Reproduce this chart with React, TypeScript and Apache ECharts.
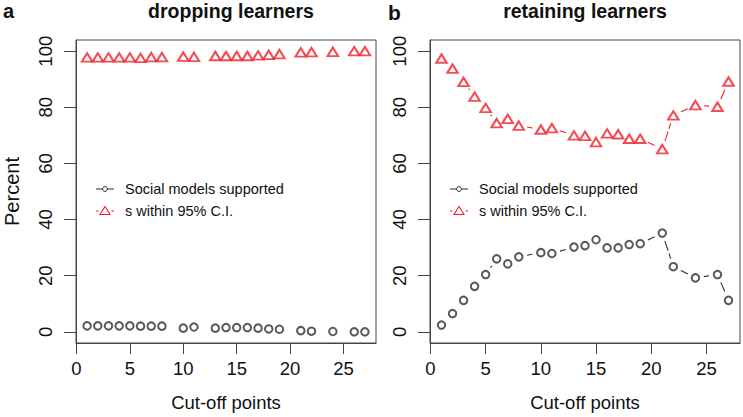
import React, { useEffect, useRef } from "react";
import * as echarts from "echarts";

const cutoffs = [1, 2, 3, 4, 5, 6, 7, 8, 10, 11, 13, 14, 15, 16, 17, 18, 19, 21, 22, 24, 26, 27];
const droppingSupported = [2.1, 2.1, 2.1, 2.1, 2.1, 2.0, 2.0, 2.0, 1.3, 1.7, 1.3, 1.5, 1.5, 1.5, 1.3, 1.0, 0.9, 0.4, 0.2, 0.1, 0, 0];
const droppingWithinCI = [97.8, 97.8, 97.8, 97.8, 97.8, 97.6, 97.9, 97.9, 98.1, 98.0, 98.3, 98.3, 98.3, 98.3, 98.5, 98.7, 99.0, 99.6, 99.7, 99.8, 100, 100];
const retainingSupported = [2.4, 6.5, 11.2, 16.2, 20.4, 26.0, 24.2, 26.7, 28.2, 27.9, 30.2, 30.7, 32.8, 29.9, 29.9, 31.1, 31.4, 35.2, 23.2, 19.2, 20.4, 11.2];
const retainingWithinCI = [97.4, 93.8, 89.1, 83.8, 79.8, 74.4, 75.9, 73.5, 72.1, 72.6, 70.0, 69.8, 67.6, 70.7, 70.4, 68.8, 68.8, 65.1, 77.1, 80.8, 80.2, 89.2];
const xTicks = [0, 5, 10, 15, 20, 25];
const yTicks = [0, 20, 40, 60, 80, 100];
const legendLabels = ["Social models supported", "s within 95% C.I."];
const panelTitles = ["dropping learners", "retaining learners"];
const panelLetters = ["a", "b"];

const FONT = "'Liberation Sans', Arial, Helvetica, sans-serif";
const BLACK = "#2e2e2e";
const RED = "#ee2128";
const GAP = 8.5;

function pts(ys: number[]) {
  return cutoffs.map((x, i) => [x, ys[i]]);
}
function segs(ys: number[]) {
  return cutoffs.slice(1).map((x, i) => [cutoffs[i], ys[i], x, ys[i + 1]]);
}

function segSeries(ys: number[], color: string, idx: number) {
  return {
    type: "custom",
    xAxisIndex: idx,
    yAxisIndex: idx,
    silent: true,
    encode: { x: [0, 2], y: [1, 3] },
    data: segs(ys),
    renderItem: (params: any, api: any) => {
      const p1 = api.coord([api.value(0), api.value(1)]);
      const p2 = api.coord([api.value(2), api.value(3)]);
      const dx = p2[0] - p1[0];
      const dy = p2[1] - p1[1];
      const len = Math.sqrt(dx * dx + dy * dy);
      if (len <= 2 * GAP + 1) return { type: "group", children: [] };
      const ux = dx / len;
      const uy = dy / len;
      return {
        type: "line",
        shape: {
          x1: p1[0] + ux * GAP,
          y1: p1[1] + uy * GAP,
          x2: p2[0] - ux * GAP,
          y2: p2[1] - uy * GAP,
        },
        style: { stroke: color, lineWidth: 1.1, lineDash: [10, 3], fill: null },
      };
    },
  };
}

function circleSeries(ys: number[], idx: number) {
  return {
    type: "scatter",
    xAxisIndex: idx,
    yAxisIndex: idx,
    symbol: "emptyCircle",
    symbolSize: 7.5,
    itemStyle: { color: BLACK, borderColor: BLACK, borderWidth: 1 },
    data: pts(ys),
    z: 3,
  };
}
function triSeries(ys: number[], idx: number) {
  return {
    type: "scatter",
    xAxisIndex: idx,
    yAxisIndex: idx,
    symbol: "emptyTriangle",
    symbolSize: [10.5, 8.5],
    itemStyle: { color: RED, borderColor: RED, borderWidth: 1.1 },
    data: pts(ys),
    z: 3,
  };
}

function xAxis(idx: number) {
  return {
    type: "value",
    gridIndex: idx,
    min: -0.04,
    max: 28.04,
    axisLine: { show: true, onZero: false, lineStyle: { color: "#444", width: 1 } },
    axisTick: { show: true, length: 11, customValues: xTicks, lineStyle: { color: "#444", width: 1 } },
    axisLabel: { customValues: xTicks, fontSize: 18.5, color: "#111", margin: 16, fontFamily: FONT },
    splitLine: { show: false },
    name: "Cut-off points",
    nameLocation: "middle",
    nameGap: 50,
    nameTextStyle: { fontSize: 18.5, color: "#111", fontFamily: FONT },
  };
}
function yAxis(idx: number) {
  return {
    type: "value",
    gridIndex: idx,
    min: -4,
    max: 104,
    axisLine: { show: true, onZero: false, lineStyle: { color: "#444", width: 1 } },
    axisTick: { show: true, length: 12, customValues: yTicks, lineStyle: { color: "#444", width: 1 } },
    axisLabel: { customValues: yTicks, rotate: 90, fontSize: 18.5, color: "#111", margin: 21, fontFamily: FONT },
    splitLine: { show: false },
    name: idx === 0 ? "Percent" : "",
    nameLocation: "middle",
    nameGap: 54,
    nameRotate: 90,
    nameTextStyle: { fontSize: 20, color: "#111", fontFamily: FONT },
  };
}

function legendGraphics(x0: number) {
  const y1 = 189;
  const y2 = 211;
  const cx = x0 + 9;
  return [
    { type: "line", shape: { x1: x0, y1, x2: x0 + 18, y2: y1 }, style: { stroke: BLACK, lineWidth: 1 } },
    { type: "circle", shape: { cx, cy: y1, r: 2.4 }, style: { stroke: BLACK, fill: "#fff", lineWidth: 1 } },
    { type: "line", shape: { x1: x0, y1: y2, x2: x0 + 2.5, y2 }, style: { stroke: RED, lineWidth: 1 } },
    { type: "line", shape: { x1: x0 + 15.5, y1: y2, x2: x0 + 18, y2 }, style: { stroke: RED, lineWidth: 1 } },
    {
      type: "polygon",
      shape: { points: [[cx, y2 - 4.5], [cx - 5, y2 + 3.5], [cx + 5, y2 + 3.5]] },
      style: { stroke: RED, fill: "#fff", lineWidth: 1.1 },
    },
    {
      type: "text",
      x: x0 + 29,
      y: y1,
      style: { text: legendLabels[0], font: `14.5px ${FONT}`, fill: "#111", verticalAlign: "middle" },
    },
    {
      type: "text",
      x: x0 + 29,
      y: y2,
      style: { text: legendLabels[1], font: `14.5px ${FONT}`, fill: "#111", verticalAlign: "middle" },
    },
  ];
}

export default function App() {
  const ref = useRef<HTMLDivElement>(null);
  useEffect(() => {
    if (!ref.current) return;
    const chart = echarts.init(ref.current, null, { renderer: "svg" });
    chart.setOption({
      animation: false,
      backgroundColor: "#fff",
      grid: [
        { left: 76, top: 40, width: 300, height: 306, show: true, borderColor: "#444", borderWidth: 1, backgroundColor: "transparent" },
        { left: 430, top: 40, width: 310, height: 306, show: true, borderColor: "#444", borderWidth: 1, backgroundColor: "transparent" },
      ],
      xAxis: [xAxis(0), xAxis(1)],
      yAxis: [yAxis(0), yAxis(1)],
      series: [
        circleSeries(droppingSupported, 0),
        triSeries(droppingWithinCI, 0),
        segSeries(retainingSupported, BLACK, 1),
        segSeries(retainingWithinCI, RED, 1),
        circleSeries(retainingSupported, 1),
        triSeries(retainingWithinCI, 1),
      ],
      graphic: [
        { type: "text", x: 3, y: 10.5, style: { text: panelLetters[0], font: `bold 20px ${FONT}`, fill: "#111", verticalAlign: "middle" } },
        { type: "text", x: 231, y: 10.5, style: { text: panelTitles[0], font: `bold 19.5px ${FONT}`, fill: "#111", align: "center", verticalAlign: "middle" } },
        { type: "text", x: 388, y: 12.5, style: { text: panelLetters[1], font: `bold 21px ${FONT}`, fill: "#111", verticalAlign: "middle" } },
        { type: "text", x: 585, y: 10.5, style: { text: panelTitles[1], font: `bold 19.5px ${FONT}`, fill: "#111", align: "center", verticalAlign: "middle" } },
        ...legendGraphics(96),
        ...legendGraphics(450),
      ],
    });
    return () => chart.dispose();
  }, []);
  return <div ref={ref} style={{ position: "fixed", left: 0, top: 0, width: 743, height: 417 }} />;
}
